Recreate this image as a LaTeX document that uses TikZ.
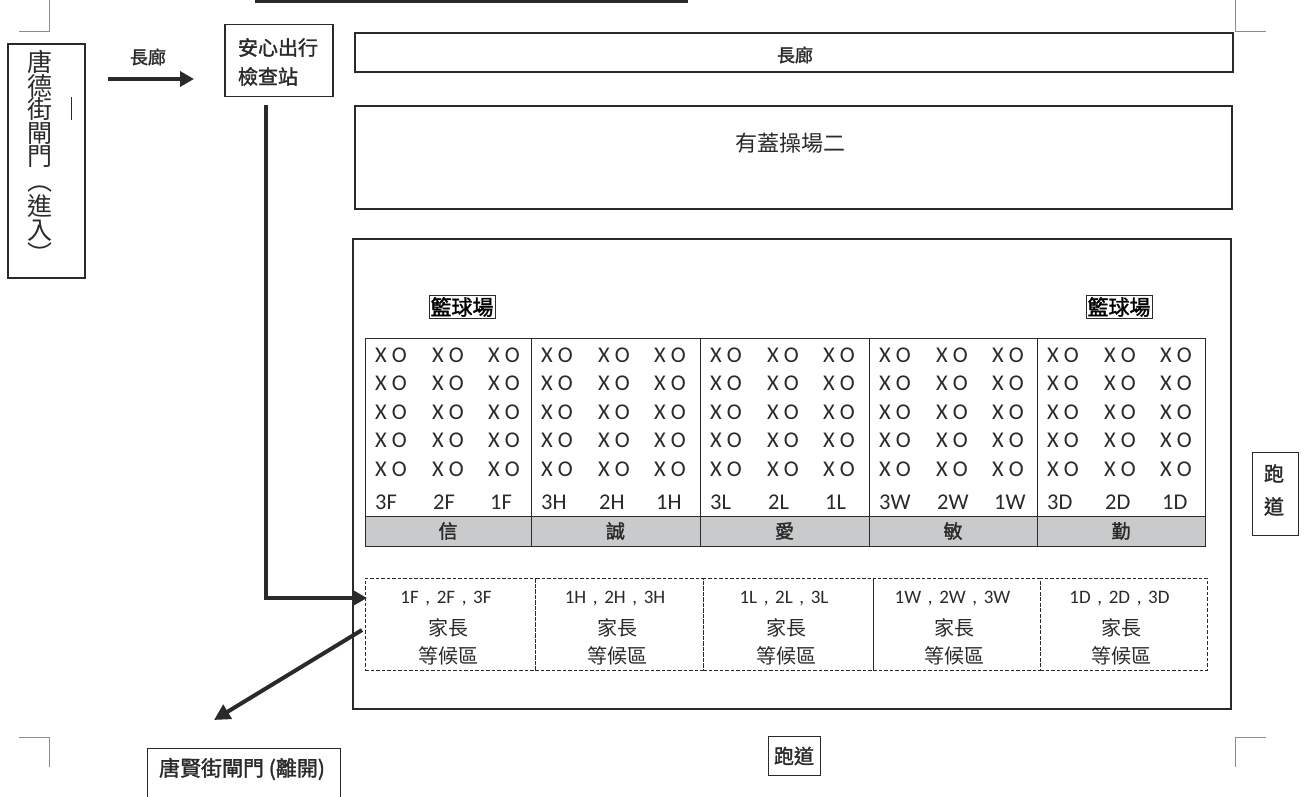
\documentclass[tikz,border=0pt]{standalone}
\usepackage{graphicx}
\usepackage{fontspec}
\setmainfont{Carlito}
\newfontfamily\cjk{Noto Sans CJK TC}
\newfontfamily\cjkb[FakeBold=1.6]{Noto Sans CJK TC}
\usetikzlibrary{arrows.meta}
\definecolor{ink}{HTML}{2A2A2A}
\definecolor{band}{HTML}{C8CACB}
\tikzset{
  box/.style={draw=ink, line width=1.3pt, inner sep=0pt},
  thinbox/.style={draw=ink, line width=1pt, inner sep=0pt},
  dashbox/.style={draw=ink, line width=0.9pt, dash pattern=on 3.5pt off 2pt, inner sep=0pt},
  bigarrow/.style={draw=ink, line width=4.5pt, -{Triangle[length=15pt,width=16pt]}},
  cropmark/.style={draw=black!45, line width=0.8pt},
  lbl/.style={inner sep=0pt, text=ink},
  xo/.style={inner sep=0pt, anchor=west, text=ink, font=\fontsize{22.5}{24}\selectfont},
}
\begin{document}
\begin{tikzpicture}[x=1pt,y=-1pt]
\useasboundingbox (0,0) rectangle (1304,797);
\fill[white] (0,0) rectangle (1304,797);

% crop marks and top rule
\draw[cropmark] (49,0) -- (49,31) -- (19,31);
\draw[cropmark] (1235,0) -- (1235,31) -- (1266,31);
\draw[cropmark] (19,737) -- (49,737) -- (49,767);
\draw[cropmark] (1266,737) -- (1235,737) -- (1235,767);
\draw[draw=ink, line width=2.5pt] (255,1.5) -- (688,1.5);

% entrance gate (vertical text)
\node[box, minimum width=77, minimum height=234] (enter) at (46.5,161) {};
\node[lbl, anchor=north, align=center, font=\cjk\fontsize{25}{23.5}\selectfont] (entertext) at (40,50)
  {唐\\德\\街\\閘\\門\\\rotatebox[origin=c]{-90}{（}\\進\\入\\\rotatebox[origin=c]{-90}{）}};
\draw[draw=ink, line width=0.8pt] (71,97) -- (71,120);

% corridor arrow
\node[lbl, font=\cjkb\fontsize{18}{20}\selectfont] (lblA) at (148,57) {長廊};
\coordinate (a1) at (108,79);
\coordinate (a2) at (194,79);
\draw[draw=ink, line width=4pt, -{Triangle[length=14pt,width=15pt]}] (a1) -- (a2);

% check station
\node[box, minimum width=108, minimum height=72] (check) at (279,60.5) {};
\node[lbl, align=left, font=\cjkb\fontsize{20}{29}\selectfont] (checktext) at (278,62) {安心出行\\檢查站};

% corridor and covered playground
\node[box, minimum width=878, minimum height=39] (corridor) at (794,52.5) {};
\node[lbl, font=\cjkb\fontsize{18}{20}\selectfont] (corridortext) at (795,55) {長廊};
\node[box, minimum width=877, minimum height=103] (play) at (793.5,157.5) {};
\node[lbl, font=\cjk\fontsize{22}{24}\selectfont] (playtext) at (790,143) {有蓋操場二};

% big area
\node[box, minimum width=878, minimum height=470] (area) at (792,474) {};
\node[thinbox, inner sep=1.5pt, font=\cjkb\fontsize{21}{22}\selectfont] (bb1) at (462,307) {籃球場};
\node[thinbox, inner sep=1.5pt, font=\cjkb\fontsize{21}{22}\selectfont] (bb2) at (1119,307) {籃球場};

% seating grid
\foreach \l/\r/\a/\h [count=\i] in {365/531/F/信, 531/700/H/誠, 700/869/L/愛, 869/1037/W/敏, 1037/1205/D/勤}{
  \fill[band] (\l,516) rectangle (\r,546);
  \node[thinbox, minimum width={\r-\l}, minimum height=178, anchor=north west] (cell\i) at (\l,338) {};
  \node[thinbox, minimum width={\r-\l}, minimum height=30, anchor=north west] (band\i) at (\l,516) {};
  \node[lbl, font=\cjkb\fontsize{19}{20}\selectfont] (bandtext\i) at ({(\l+\r)/2},531) {\h};
  \foreach \y [count=\j] in {355,383,412,440,469}{
    \node[xo] (xo\i-\j-a) at (\l+10,\y) {X O};
    \node[xo] (xo\i-\j-b) at (\l+67,\y) {X O};
    \node[xo] (xo\i-\j-c) at (\l+123,\y) {X O};
  }
  \node[xo] (cls\i-a) at (\l+10,502) {3\a};
  \node[xo] (cls\i-b) at (\l+68,502) {2\a};
  \node[xo] (cls\i-c) at (\l+125,502) {1\a};
}

% parents waiting zones
\foreach \l/\r/\a [count=\i] in {365/535/F, 535/703/H, 703/873/L, 873/1040/W, 1040/1207/D}{
  \node[dashbox, minimum width={\r-\l}, minimum height=92, anchor=north west] (wait\i) at (\l,578) {};
  \node[lbl, font=\fontsize{19}{20}\selectfont] (waitcls\i) at ({(\l+\r)/2-4},599) {1\a\hspace{0.35em},\hspace{0.35em}2\a\hspace{0.35em},\hspace{0.35em}3\a};
  \node[lbl, font=\cjk\fontsize{20}{22}\selectfont] (waitp\i) at ({(\l+\r)/2-2},628) {家長};
  \node[lbl, font=\cjk\fontsize{20}{22}\selectfont] (waitz\i) at ({(\l+\r)/2-2},656) {等候區};
}

% runway labels
\node[thinbox, minimum width=46, minimum height=83] (run1) at (1275,493.5) {};
\node[lbl, align=center, font=\cjkb\fontsize{20}{33}\selectfont] (run1text) at (1274,490) {跑\\道};
\node[thinbox, minimum width=52, minimum height=39] (run2) at (794,755.5) {};
\node[lbl, font=\cjkb\fontsize{20}{22}\selectfont] (run2text) at (794,756) {跑道};

% exit gate
\node[thinbox, minimum width=193, minimum height=60, anchor=north west] (exit) at (147,748) {};
\node[lbl, font=\cjkb\fontsize{21}{22}\selectfont] (exittext) at (242,769) {唐賢街閘門 (離開)};

% route arrows
\coordinate (p1) at (266,105);
\coordinate (p2) at (367,598);
\draw[bigarrow] (p1) |- (p2);
\coordinate (d1) at (362,630);
\coordinate (d2) at (214,720);
\draw[draw=ink, line width=4pt, -{Triangle[length=16pt,width=16pt]}] (d1) -- (d2);
\end{tikzpicture}
\end{document}
